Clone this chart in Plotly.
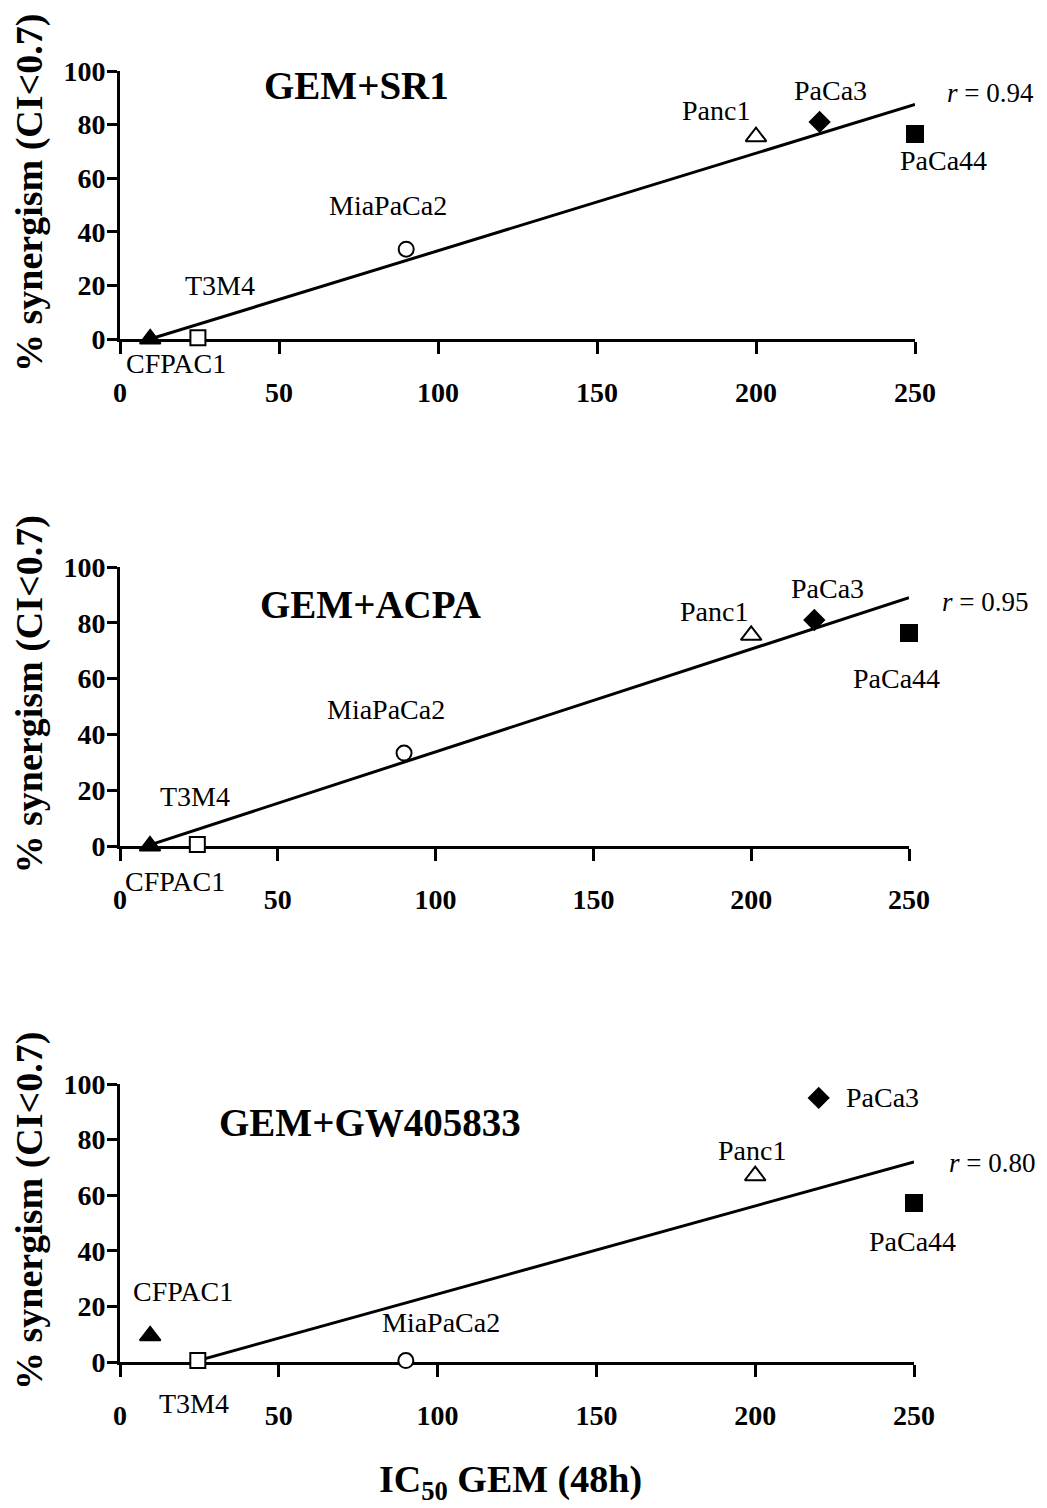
import plotly.graph_objects as go

# ---------------- data ----------------
cell_lines = ["CFPAC1", "T3M4", "MiaPaCa2", "Panc1", "PaCa3", "PaCa44"]
ic50_gem = [9.5, 24.5, 90, 200, 220, 250]

syn_sr1 = [0, 0.5, 33.5, 75.5, 81, 76.5]
syn_acpa = [0, 0.5, 33.3, 75.5, 81, 76.3]
syn_gw = [9.4, 0.5, 0.5, 67, 95, 57.2]

fit_sr1_x = [9.5, 250]
fit_sr1_y = [0, 87.5]
fit_acpa_x = [9.5, 250]
fit_acpa_y = [0.4, 89]
fit_gw_x = [24.5, 250]
fit_gw_y = [0.5, 72]

panel_titles = ["GEM+SR1", "GEM+ACPA", "GEM+GW405833"]
r_values = ["0.94", "0.95", "0.80"]

x_ticks = [0, 50, 100, 150, 200, 250]
y_ticks = [0, 20, 40, 60, 80, 100]

# ---------------- layout (pixel positions of text centres) ----------------
W, H = 1047, 1508
label_px = [
    [(176, 363), (220, 285), (388, 205), (716, 111), (830, 90), (943, 160)],
    [(175, 881), (195, 796), (386, 709), (714, 611), (827, 588), (896, 678)],
    [(183, 1291), (194, 1403), (441, 1322), (752, 1150), (882, 1097), (912, 1241)],
]
title_px = [(356, 85), (370, 605), (370, 1122)]
r_px = [(990, 93), (985, 602), (992, 1163)]

FONT = "Liberation Serif, Times New Roman, serif"
marker_symbols = ["triangle-up", "square", "circle", "triangle-up", "diamond", "square"]
marker_fill = ["black", "white", "white", "white", "black", "black"]
marker_sizes = [18, 15, 15, 18, 15, 16]

x_doms = [(120, 915), (120, 909), (120, 914)]
y_doms = [(71, 339), (567, 846), (1084, 1362)]


def px_to_paper(px, py):
    return px / W, 1 - py / H


fig = go.Figure()
series = [syn_sr1, syn_acpa, syn_gw]
fits = [(fit_sr1_x, fit_sr1_y), (fit_acpa_x, fit_acpa_y), (fit_gw_x, fit_gw_y)]
annotations = []

for i in range(3):
    sfx = "" if i == 0 else str(i + 1)
    xa, ya = "x" + sfx, "y" + sfx
    fx, fy = fits[i]
    fig.add_trace(go.Scatter(x=fx, y=fy, mode="lines", xaxis=xa, yaxis=ya,
                             line=dict(color="black", width=3), showlegend=False,
                             cliponaxis=False, hoverinfo="skip"))
    for j, name in enumerate(cell_lines):
        fig.add_trace(go.Scatter(
            x=[ic50_gem[j]], y=[series[i][j]], mode="markers", xaxis=xa, yaxis=ya,
            name=name, showlegend=False, cliponaxis=False,
            marker=dict(symbol=marker_symbols[j], size=marker_sizes[j], color=marker_fill[j],
                        line=dict(color="black", width=2))))
    for j, name in enumerate(cell_lines):
        px, py = px_to_paper(*label_px[i][j])
        annotations.append(dict(x=px, y=py, xref="paper", yref="paper", text=name, showarrow=False,
                                font=dict(family=FONT, size=28, color="black"),
                                xanchor="center", yanchor="middle"))
    tx, ty = px_to_paper(*title_px[i])
    annotations.append(dict(x=tx, y=ty, xref="paper", yref="paper", text="<b>" + panel_titles[i] + "</b>",
                            showarrow=False, font=dict(family=FONT, size=39, color="black"),
                            xanchor="center", yanchor="middle"))
    rx, ry = px_to_paper(*r_px[i])
    annotations.append(dict(x=rx, y=ry, xref="paper", yref="paper", text="<i>r</i> = " + r_values[i],
                            showarrow=False, font=dict(family=FONT, size=27, color="black"),
                            xanchor="center", yanchor="middle"))
    y0, y1 = y_doms[i]
    annotations.append(dict(x=29 / W, y=1 - ((y0 + y1) / 2 - 12) / H, xref="paper", yref="paper",
                            text="<b>% synergism (CI&lt;0.7)</b>", textangle=-90, showarrow=False,
                            font=dict(family=FONT, size=38, color="black"),
                            xanchor="center", yanchor="middle"))

    xd0, xd1 = x_doms[i]
    axis_common = dict(showline=True, linecolor="black", linewidth=3, ticks="outside",
                       tickwidth=3, tickcolor="black", showgrid=False,
                       zeroline=False, automargin=False, layer="below traces",
                       tickfont=dict(family=FONT, size=28, color="black", weight="bold"))
    fig.update_layout(**{
        "xaxis" + sfx: dict(domain=[xd0 / W, xd1 / W], range=[0, 250], anchor=ya, ticklen=12,
                            tickvals=x_ticks, ticklabelstandoff=14, **axis_common),
        "yaxis" + sfx: dict(domain=[1 - y1 / H, 1 - y0 / H], range=[0, 100], anchor=xa, ticklen=10,
                            tickvals=y_ticks, ticklabelstandoff=-4, **axis_common),
    })

annotations.append(dict(x=510 / W, y=1 - 1482 / H, xref="paper", yref="paper",
                        text="<b>IC<sub>50</sub> GEM (48h)</b>", showarrow=False,
                        font=dict(family=FONT, size=38, color="black"),
                        xanchor="center", yanchor="middle"))

fig.update_layout(width=W, height=H, margin=dict(l=0, r=0, t=0, b=0, autoexpand=False),
                  paper_bgcolor="white", plot_bgcolor="white",
                  annotations=annotations, showlegend=False)

fig.write_html("out.html")
